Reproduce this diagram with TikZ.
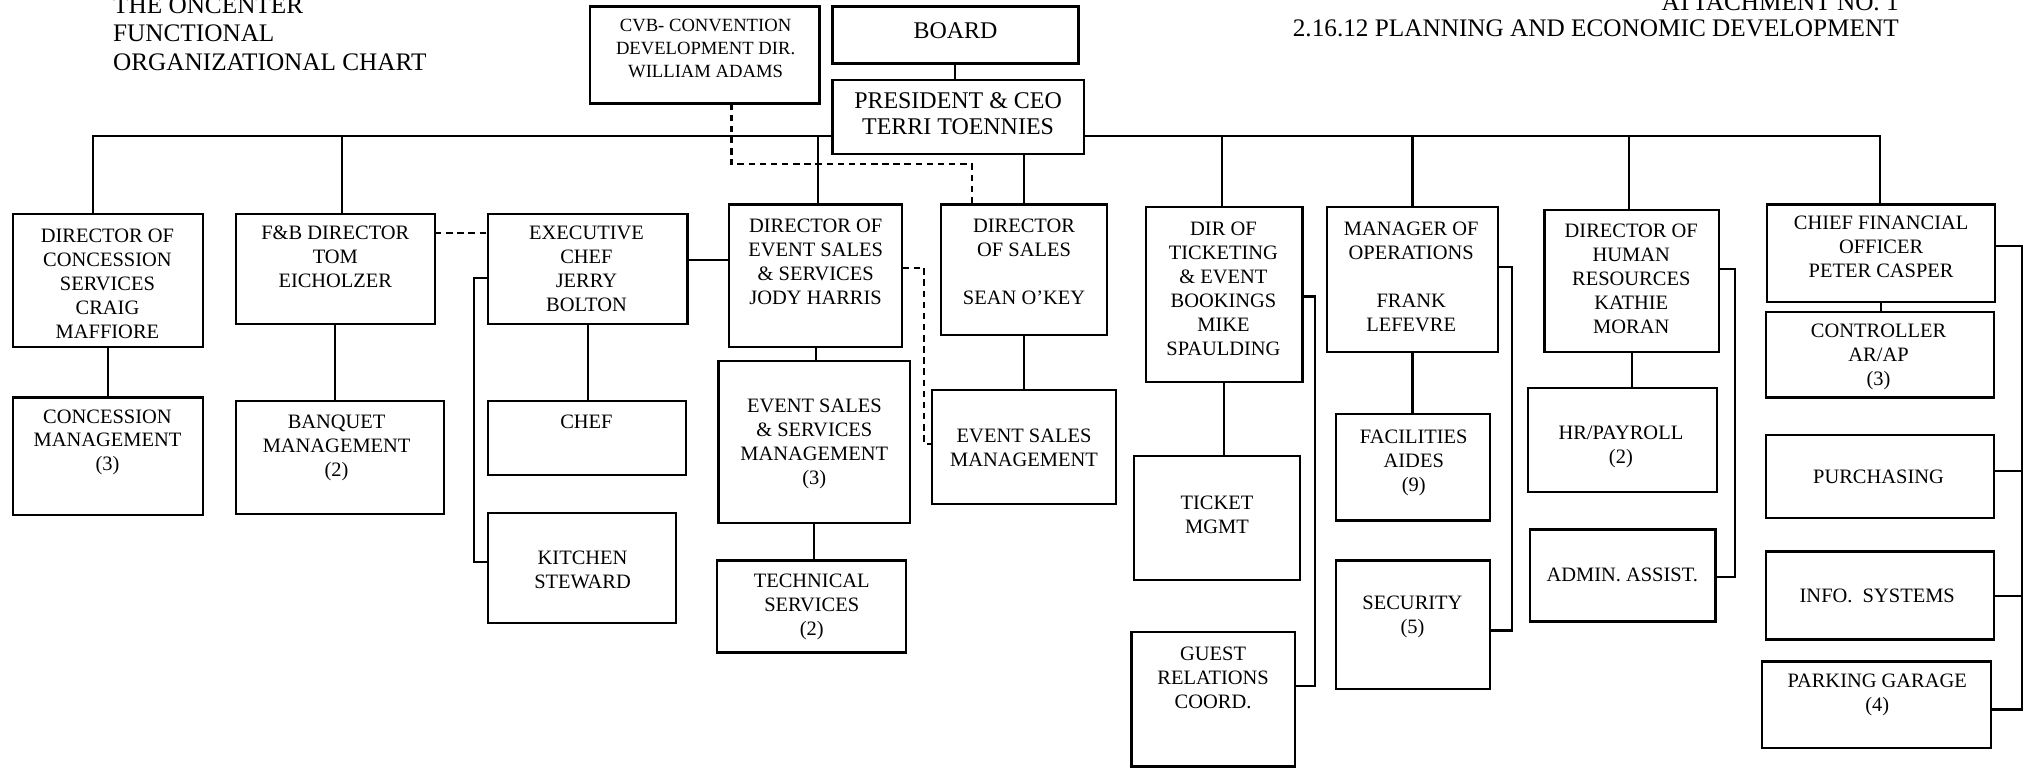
\documentclass[tikz,border=0pt]{standalone}
\usepackage{fontspec}
\setmainfont{Liberation Serif}
\usetikzlibrary{calc}
\tikzset{
 box/.style={draw, line width=0.85pt, inner sep=0pt, outer sep=0pt},
 txt/.style={align=center, inner sep=0pt, font=\fontsize{7.9}{9.25}\selectfont},
 cvbtxt/.style={align=center, inner sep=0pt, font=\fontsize{7.2}{8.75}\selectfont},
 bigtxt/.style={align=center, inner sep=0pt, font=\fontsize{9.25}{10}\selectfont},
 hdr/.style={inner sep=0pt, font=\fontsize{9.75}{11}\selectfont},
 link/.style={line width=0.8pt},
 dlink/.style={line width=0.8pt, dash pattern=on 2.5pt off 1.8pt},
}
\newcommand{\orgbox}[5]{\node[box, minimum width={(#4-#2)*0.5pt}, minimum height={(#5-#3)*0.5pt}] (#1) at ({(#2+#4)/2},{(#3+#5)/2}) {};}
\begin{document}
\begin{tikzpicture}[x=0.5pt,y=-0.5pt]
\useasboundingbox (0,0) rectangle (1568,593);
% headers
\node[hdr, anchor=west, align=left] (title) at (87,26) {THE ONCENTER\\FUNCTIONAL\\ORGANIZATIONAL CHART};
\node[hdr, anchor=east, align=right, font=\fontsize{9.75}{10}\selectfont] (attach) at (1467,12) {ATTACHMENT NO. 1\\2.16.12 PLANNING AND ECONOMIC DEVELOPMENT};
% boxes
\orgbox{cvb}{456}{5}{633}{80}
\orgbox{board}{643}{5}{833}{49}
\orgbox{pres}{643}{62}{837}{119}
\orgbox{dconc}{10}{165}{157}{268}
\orgbox{fb}{182}{165}{336}{250}
\orgbox{xchef}{377}{165}{531}{250}
\orgbox{des}{563}{158}{697}{268}
\orgbox{dsal}{727}{158}{855}{259}
\orgbox{dtik}{885}{160}{1006}{295}
\orgbox{mops}{1025}{160}{1157}{272}
\orgbox{dhr}{1193}{162}{1328}{272}
\orgbox{cfo}{1365}{158}{1541}{233}
\orgbox{cmgt}{10}{307}{157}{398}
\orgbox{bmgt}{182}{310}{343}{397}
\orgbox{chef}{377}{310}{530}{367}
\orgbox{kst}{377}{396}{522}{481}
\orgbox{essm}{555}{279}{703}{404}
\orgbox{tech}{554}{433}{700}{504}
\orgbox{esm}{720}{301}{862}{389}
\orgbox{tmgt}{876}{352}{1004}{448}
\orgbox{grc}{874}{488}{1000}{592}
\orgbox{fac}{1032}{320}{1151}{402}
\orgbox{sec}{1032}{433}{1151}{532}
\orgbox{hrp}{1180}{300}{1326}{380}
\orgbox{adm}{1182}{409}{1325}{480}
\orgbox{ctl}{1364}{241}{1540}{307}
\orgbox{pur}{1364}{336}{1540}{400}
\orgbox{info}{1364}{426}{1540}{494}
\orgbox{park}{1361}{511}{1538}{578}
% texts
\node[cvbtxt] (tcvb) at (545,37.5) {CVB- CONVENTION\\DEVELOPMENT DIR.\\WILLIAM ADAMS};
\node[bigtxt] (tboard) at (738,24) {BOARD};
\node[bigtxt] (tpres) at (740,88) {PRESIDENT \& CEO\\TERRI TOENNIES};
\node[txt] (tdconc) at (83,219.4) {DIRECTOR OF\\CONCESSION\\SERVICES\\CRAIG\\MAFFIORE};
\node[txt] (tfb) at (259,198.7) {F\&B DIRECTOR\\TOM\\EICHOLZER};
\node[txt] (txchef) at (453,207.8) {EXECUTIVE\\CHEF\\JERRY\\BOLTON};
\node[txt] (tdes) at (630,202) {DIRECTOR OF\\EVENT SALES\\\& SERVICES\\JODY HARRIS};
\node[txt] (tdsal) at (791,202.5) {DIRECTOR\\OF SALES\\\mbox{}\\SEAN O’KEY};
\node[txt] (tdtik) at (945,223) {DIR OF\\TICKETING\\\& EVENT\\BOOKINGS\\MIKE\\SPAULDING};
\node[txt] (tmops) at (1090,213.6) {MANAGER OF\\OPERATIONS\\\mbox{}\\FRANK\\LEFEVRE};
\node[txt] (tdhr) at (1260,215.6) {DIRECTOR OF\\HUMAN\\RESOURCES\\KATHIE\\MORAN};
\node[txt] (tcfo) at (1453,191) {CHIEF FINANCIAL\\OFFICER\\PETER CASPER};
\node[txt] (tcmgt) at (83,341.7) {CONCESSION\\MANAGEMENT\\(3)};
\node[txt] (tbmgt) at (260,346) {BANQUET\\MANAGEMENT\\(2)};
\node[txt] (tchef) at (453,326) {CHEF};
\node[txt] (tkst) at (450,440) {KITCHEN\\STEWARD};
\node[txt] (tessm) at (629,343) {EVENT SALES\\\& SERVICES\\MANAGEMENT\\(3)};
\node[txt] (ttech) at (627,468.7) {TECHNICAL\\SERVICES\\(2)};
\node[txt] (tesm) at (791,346) {EVENT SALES\\MANAGEMENT};
\node[txt] (ttmgt) at (940,397.5) {TICKET\\MGMT};
\node[txt] (tgrc) at (937,523.3) {GUEST\\RELATIONS\\COORD.};
\node[txt] (tfac) at (1092,357.3) {FACILITIES\\AIDES\\(9)};
\node[txt] (tsec) at (1091,476.5) {SECURITY\\(5)};
\node[txt] (thrp) at (1252,345.5) {HR/PAYROLL\\(2)};
\node[txt] (tadm) at (1253,444) {ADMIN. ASSIST.};
\node[txt] (tctl) at (1451,276) {CONTROLLER\\AR/AP\\(3)};
\node[txt] (tpur) at (1451,368) {PURCHASING};
\node[txt] (tinfo) at (1450,460) {INFO.\ \ SYSTEMS};
\node[txt] (tpark) at (1450,536.5) {PARKING GARAGE\\(4)};
% main connectors
\coordinate (busL) at (72,105);
\coordinate (busR) at (1452,105);
\draw[link] (busL |- dconc.north) -- (busL) -- (busL -| pres.west);
\draw[link] (busR -| pres.east) -- (busR) -- (busR |- cfo.north);
\draw[link] (board.south) -- (board.south |- pres.north);
\coordinate (d2) at (264,105);
\coordinate (d3) at (632,105);
\coordinate (d4) at (944,105);
\coordinate (d5) at (1091,105);
\coordinate (d6) at (1258,105);
\draw[link] (d2) -- (d2 |- fb.north);
\draw[link] (d3) -- (d3 |- des.north);
\draw[link] (d4) -- (d4 |- dtik.north);
\draw[link] (d5) -- (d5 |- mops.north);
\draw[link] (d6) -- (d6 |- dhr.north);
\draw[link] (dsal.north |- pres.south) -- (dsal.north);
% CVB dashed
\coordinate (c1) at (565,127);
\coordinate (c2) at (751,127);
\draw[dlink] (c1 |- cvb.south) -- (c1) -- (c2) -- (c2 |- dsal.north);
% F&B - exec chef
\coordinate (f1) at (356,180);
\draw[dlink] (f1 -| fb.east) -- (f1 -| xchef.west);
\coordinate (e1) at (547,201);
\draw[link] (e1 -| xchef.east) -- (e1 -| des.west);
% sub connectors
\draw[link] (dconc.south) -- (dconc.south |- cmgt.north);
\draw[link] (fb.south) -- (fb.south |- bmgt.north);
\draw[link] (xchef.south) -- (xchef.south |- chef.north);
\coordinate (k1) at (366,215);
\coordinate (k2) at (366,434);
\draw[link] (k1 -| xchef.west) -- (k1) -- (k2) -- (k2 -| kst.west);
\draw[link] (des.south) -- (des.south |- essm.north);
\draw[link] (essm.south) -- (essm.south |- tech.north);
\coordinate (s1) at (714,207);
\coordinate (s2) at (714,343);
\draw[dlink] (s1 -| des.east) -- (s1) -- (s2) -- (s2 -| esm.west);
\draw[link] (dsal.south) -- (dsal.south |- esm.north);
\draw[link] (dtik.south) -- (dtik.south |- tmgt.north);
\coordinate (t1) at (1016,229);
\coordinate (t2) at (1016,530);
\draw[link] (t1 -| dtik.east) -- (t1) -- (t2) -- (t2 -| grc.east);
\draw[link] (mops.south) -- (mops.south |- fac.north);
\coordinate (o1) at (1168,206);
\coordinate (o2) at (1168,487);
\draw[link] (o1 -| mops.east) -- (o1) -- (o2) -- (o2 -| sec.east);
\draw[link] (dhr.south) -- (dhr.south |- hrp.north);
\coordinate (h1) at (1340,208);
\coordinate (h2) at (1340,446);
\draw[link] (h1 -| dhr.east) -- (h1) -- (h2) -- (h2 -| adm.east);
\draw[link] (cfo.south) -- (cfo.south |- ctl.north);
\coordinate (p1) at (1562,190);
\coordinate (p2) at (1562,364);
\coordinate (p3) at (1562,460);
\coordinate (p4) at (1562,548);
\draw[link] (p1 -| cfo.east) -- (p1) -- (p4) -- (p4 -| park.east);
\draw[link] (p2) -- (p2 -| pur.east);
\draw[link] (p3) -- (p3 -| info.east);
\end{tikzpicture}
\end{document}
